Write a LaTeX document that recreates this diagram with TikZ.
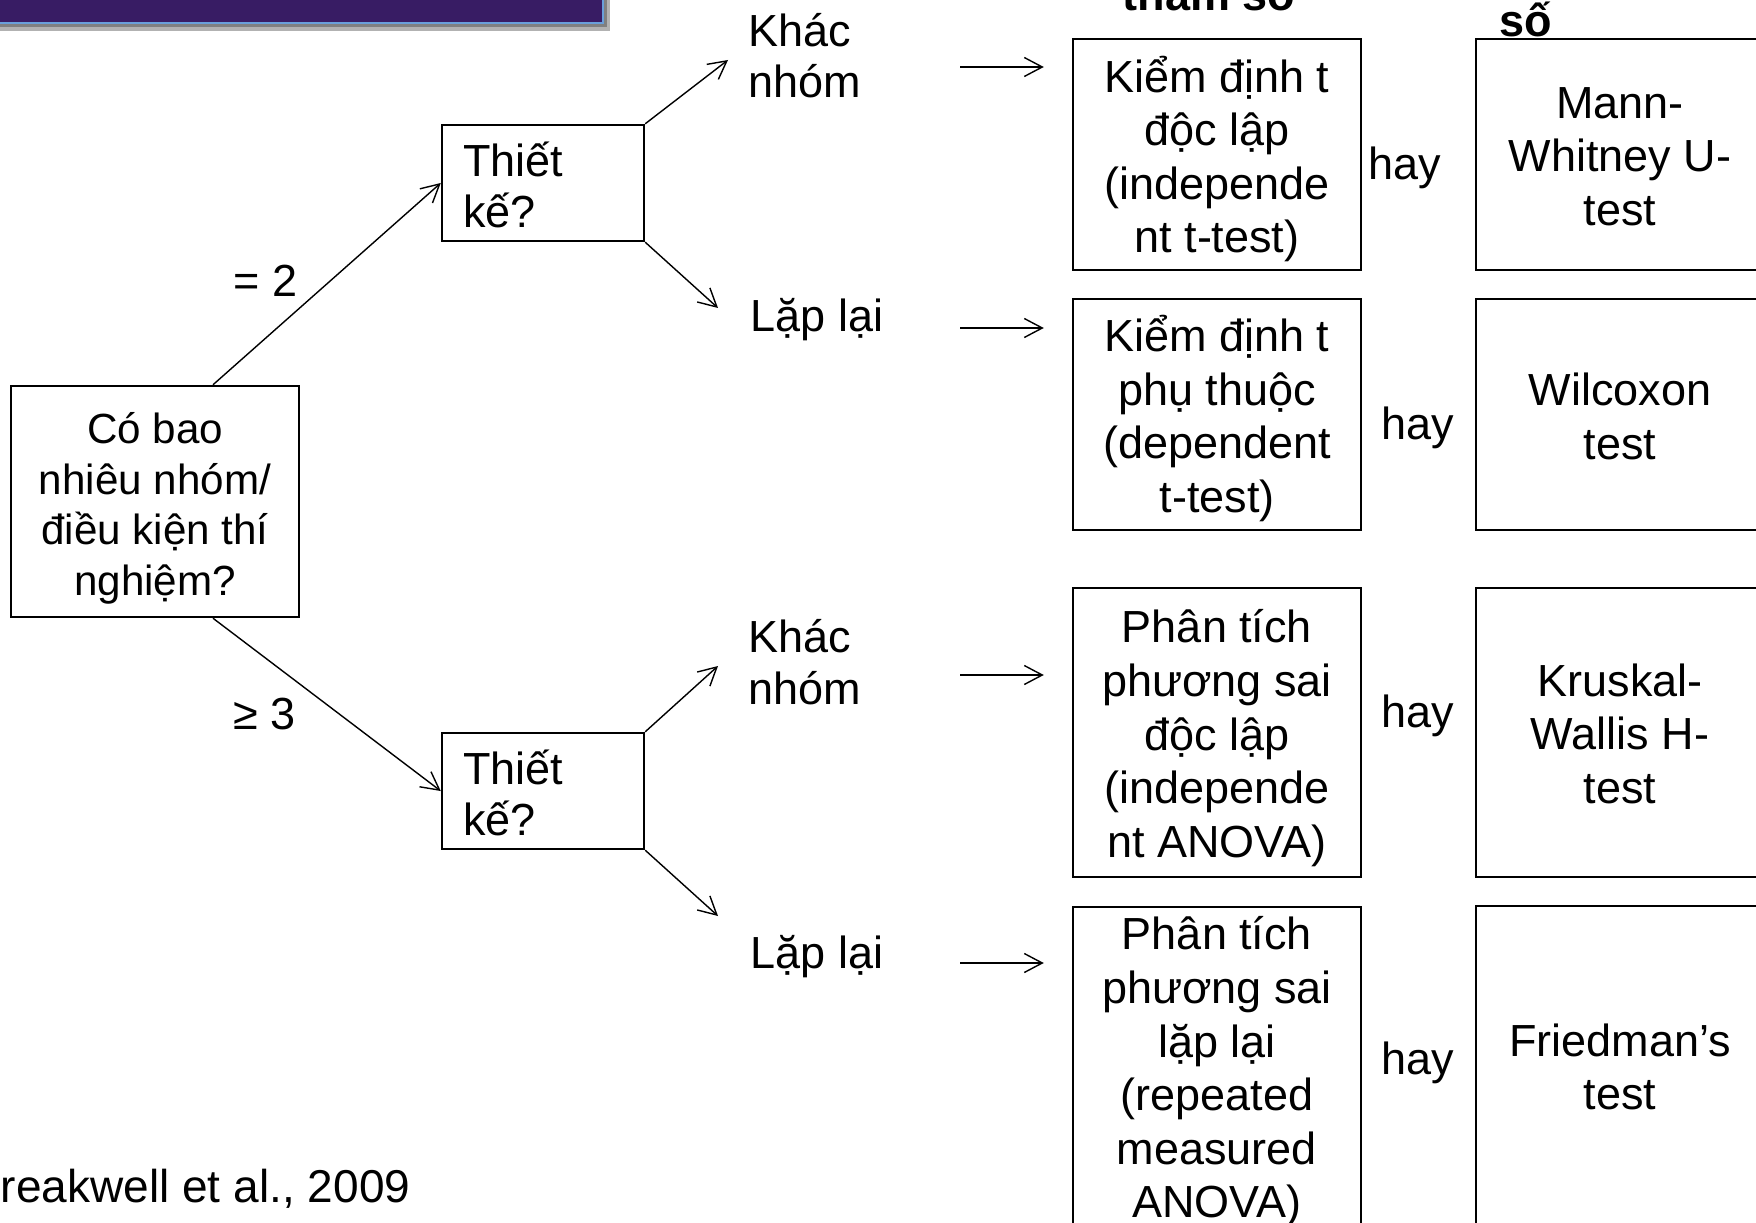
\documentclass[tikz,border=0pt]{standalone}
\usepackage{fontspec}
\setmainfont{Liberation Sans}
\usetikzlibrary{arrows.meta,positioning,calc}
\definecolor{slidePurple}{HTML}{381C64}
\definecolor{slideBlue}{HTML}{6A9FDA}
\tikzset{
  box/.style={draw, line width=0.7pt, minimum width=28.8mm},
  qbox/.style={draw, line width=0.7pt, minimum width=20.2mm, minimum height=11.6mm},
  txt/.style={align=center, inner sep=1mm},
  qtxt/.style={align=left, text width=16mm, inner sep=0pt, font=\fontsize{12.8}{14.6}\selectfont},
  lbl/.style={align=left, inner sep=0pt, font=\fontsize{12.8}{14.6}\selectfont},
  arr/.style={-{Straight Barb[length=1.8mm,width=1.9mm]}, line width=0.4pt},
}

\begin{document}
\begin{tikzpicture}[x=0.1mm, y=-0.1mm, font=\fontsize{12.8}{15.25}\selectfont]
\useasboundingbox (0,0) rectangle (1756,1223);
% title bar (cut off)
\fill[black!30] (-10,-10) rectangle (610,31);
\fill[black!50] (-10,-10) rectangle (607,27);
\fill[slidePurple] (-10,-10) rectangle (603,23);
\draw[slideBlue, line width=0.6pt] (-10,-10) rectangle (603,23);
% column headers
\node[font=\bfseries\fontsize{12.8}{15}\selectfont, anchor=base] (hdrpar) at (1209,11) {tham số};
\node[lbl, font=\bfseries\fontsize{12.8}{15}\selectfont, anchor=base west] (hdrnon) at (1499,37) {số};
% question boxes
\node[box, minimum height=23.1mm] (root) at (155,501.5) {};
\node[txt, font=\fontsize{12}{14.4}\selectfont] (roottxt) at ([yshift=-1.9pt]root.center)
  {Có bao\\nhiêu nhóm/\\điều kiện thí\\nghiệm?};
\node[qbox] (thiet1) at (543,183) {};
\node[qtxt] (thiet1txt) at ([yshift=-0.6pt]thiet1.center) {Thiết\\kế?};
\node[qbox] (thiet2) at (543,791) {};
\node[qtxt] (thiet2txt) at ([yshift=-0.6pt]thiet2.center) {Thiết\\kế?};
\draw[arr] ([xshift=5.8mm]root.north) -- (thiet1.west);
\draw[arr] ([xshift=5.8mm]root.south) -- (thiet2.west);
\node[lbl, anchor=base west] (eq2) at (233,297) {= 2};
\node[lbl, anchor=base west] (ge3) at (233,729) {≥ 3};
% design labels
\node[lbl, anchor=west] (kn1) at (748,56) {Khác\\nhóm};
\node[lbl, anchor=base west] (lap1) at (750,332) {Lặp lại};
\node[lbl, anchor=west] (kn2) at (748,662) {Khác\\nhóm};
\node[lbl, anchor=base west] (lap2) at (750,968) {Lặp lại};
\coordinate (kn1tip) at (728,60);
\coordinate (lap1tip) at (718,308);
\coordinate (kn2tip) at (718,666);
\coordinate (lap2tip) at (718,916);
\draw[arr] (thiet1.north east) -- (kn1tip);
\draw[arr] (thiet1.south east) -- (lap1tip);
\draw[arr] (thiet2.north east) -- (kn2tip);
\draw[arr] (thiet2.south east) -- (lap2tip);
% parametric tests
\node[box, minimum height=23.1mm] (t1) at (1217,154.5) {};
\node[txt] (t1txt) at ([yshift=-1.3pt]t1.center) {Kiểm định t\\độc lập\\(independe\\nt t-test)};
\node[box, minimum height=23.1mm] (t2) at (1217,414.5) {};
\node[txt] (t2txt) at ([yshift=-1.1pt]t2.center) {Kiểm định t\\phụ thuộc\\(dependent\\t-test)};
\node[box, minimum height=28.9mm] (t3) at (1217,732.5) {};
\node[txt] (t3txt) at ([yshift=-1.6pt]t3.center) {Phân tích\\phương sai\\độc lập\\(independe\\nt ANOVA)};
\node[box, minimum height=33mm, anchor=north] (t4) at (1217,906) {};
\node[txt, anchor=north] (t4txt) at (t4.north) {Phân tích\\phương sai\\lặp lại\\(repeated\\measured\\ANOVA)};
% non-parametric tests
\node[box, minimum height=23.1mm] (n1) at (1620,154.5) {};
\node[txt] (n1txt) at ([yshift=-0.6pt]n1.center) {Mann-\\Whitney U-\\test};
\node[box, minimum height=23.1mm] (n2) at (1620,414.5) {};
\node[txt] (n2txt) at ([yshift=-0.6pt]n2.center) {Wilcoxon\\test};
\node[box, minimum height=28.9mm] (n3) at (1620,732.5) {};
\node[txt] (n3txt) at ([yshift=-0.4pt]n3.center) {Kruskal-\\Wallis H-\\test};
\node[box, minimum height=32.2mm] (n4) at (1620,1067) {};
\node[txt] (n4txt) at (n4.center) {Friedman’s\\test};
% arrows to tests
\coordinate (h1) at (960,67);
\coordinate (h2) at (960,328);
\coordinate (h3) at (960,675);
\coordinate (h4) at (960,963);
\draw[arr, shorten >=2.8mm] (h1) -- (h1 -| t1.west);
\draw[arr, shorten >=2.8mm] (h2) -- (h2 -| t2.west);
\draw[arr, shorten >=2.8mm] (h3) -- (h3 -| t3.west);
\draw[arr, shorten >=2.8mm] (h4) -- (h4 -| t4.west);
% or
\node[lbl, anchor=base west] (hay1) at (1368,180) {hay};
\node[lbl, anchor=base west] (hay2) at (1381,439) {hay};
\node[lbl, anchor=base west] (hay3) at (1381,727) {hay};
\node[lbl, anchor=base west] (hay4) at (1381,1074) {hay};
% source
\node[lbl, font=\fontsize{13.1}{15}\selectfont, anchor=base east] (src) at (411,1202) {Breakwell et al., 2009};
\end{tikzpicture}
\end{document}
